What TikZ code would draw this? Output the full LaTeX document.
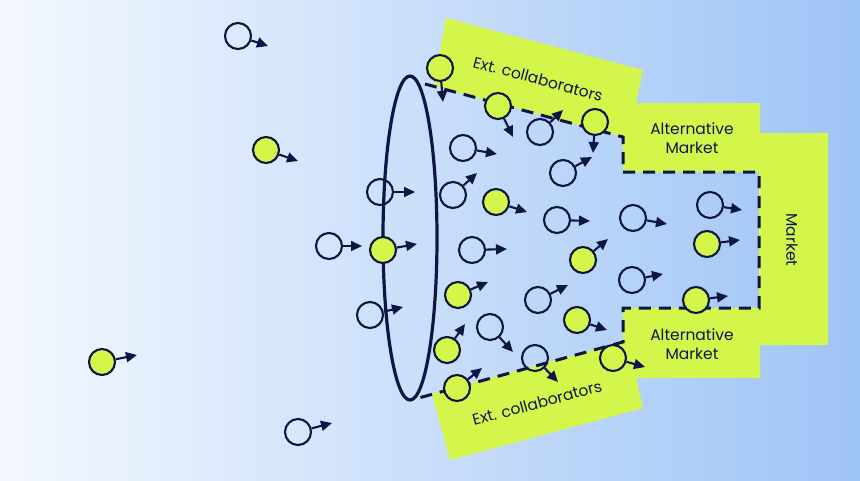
\documentclass[tikz,border=0pt]{standalone}
\usepackage{fontspec}
\setmainfont{Poppins}
\usetikzlibrary{arrows.meta,shapes.geometric}
\definecolor{navy}{RGB}{14,22,70}
\definecolor{lime}{RGB}{212,246,74}
\definecolor{bgL}{RGB}{244,248,254}
\definecolor{bgR}{RGB}{158,196,246}
\tikzset{
  agentw/.style={circle,draw=navy,line width=2.1pt,minimum size=26pt,inner sep=0pt},
  agentg/.style={agentw,fill=lime},
  flow/.style={draw=navy,line width=2.1pt,-{Triangle[length=11pt,width=10pt]}},
  lab/.style={text=navy,font=\fontsize{15.5}{19}\selectfont,align=center,inner sep=0pt},
  border/.style={draw=navy,line width=3pt,dash pattern=on 12pt off 8pt},
}
\begin{document}
\begin{tikzpicture}[x=1pt,y=-1pt]
\useasboundingbox (0,0) rectangle (860,480);
\shade[left color=bgL,right color=bgR] (0,0) rectangle (860,480);
% green regions
\fill[lime] (446,18) -- (643,70) -- (636,103) -- (760,103) -- (760,133) -- (828,133)
  -- (828,345) -- (760,345) -- (760,378) -- (636,378) -- (643,408) -- (450,460)
  -- (432,394) -- (623,342) -- (623,308) -- (759,308) -- (759,172) -- (623,172)
  -- (623,137) -- (434,86) -- cycle;
% funnel outline
\coordinate (d1) at (425,84);
\coordinate (d2) at (623,137);
\coordinate (d3) at (623,172);
\coordinate (d4) at (759,172);
\coordinate (d5) at (759,308);
\coordinate (d6) at (623,308);
\coordinate (d7) at (623,342);
\coordinate (d8) at (415,399);
\draw[border] (d1) -- (d2) -- (d3) -- (d4) -- (d5) -- (d6) -- (d7) -- (d8);
\node[draw=navy,line width=3.2pt,ellipse,minimum width=54pt,minimum height=324pt,inner sep=0pt] (funnel) at (410,238) {};
% labels
\node[lab,rotate=-15] (ext1) at (538,79) {Ext. collaborators};
\node[lab,rotate=15] (ext2) at (537,403) {Ext. collaborators};
\node[lab] (alt1) at (692,138) {Alternative\\Market};
\node[lab] (alt2) at (692,344) {Alternative\\Market};
\node[lab,rotate=-90] (mkt) at (792,240) {Market};
% white agents
\foreach \n/\x/\y/\tx/\ty in {1/238/36/268/46, 4/298/432/332/423, 5/329/246/362/246,
  6/380/192/415/192, 8/370/315/403/307, 11/540/132/563/110, 13/463/148/497/154,
  14/563/173/592/157, 15/453/195/477/173, 17/557/220/590/221, 18/633/218/667/224,
  19/710/205/742/210, 21/472/250/507/249, 24/538/300/568/285, 25/632/280/663/274,
  28/490/327/513/352, 30/535/358/558/382} {
  \node[agentw] (c\n) at (\x,\y) {};
  \coordinate (t\n) at (\tx,\ty);
  \draw[flow] (c\n) -- (t\n);
}
% green agents
\foreach \n/\x/\y/\tx/\ty in {2/266/150/298/161, 3/102/362/137/355, 7/383/250/417/244,
  9/440/68/443/102, 10/498/106/513/137, 12/595/122/593/153, 16/496/202/527/212,
  20/707/244/740/240, 22/583/260/608/239, 23/458/295/488/282, 26/577/320/607/330,
  27/696/300/728/296, 29/447/350/465/324, 31/613/358/645/367, 32/457/388/482/368} {
  \node[agentg] (c\n) at (\x,\y) {};
  \coordinate (t\n) at (\tx,\ty);
  \draw[flow] (c\n) -- (t\n);
}
\end{tikzpicture}
\end{document}
